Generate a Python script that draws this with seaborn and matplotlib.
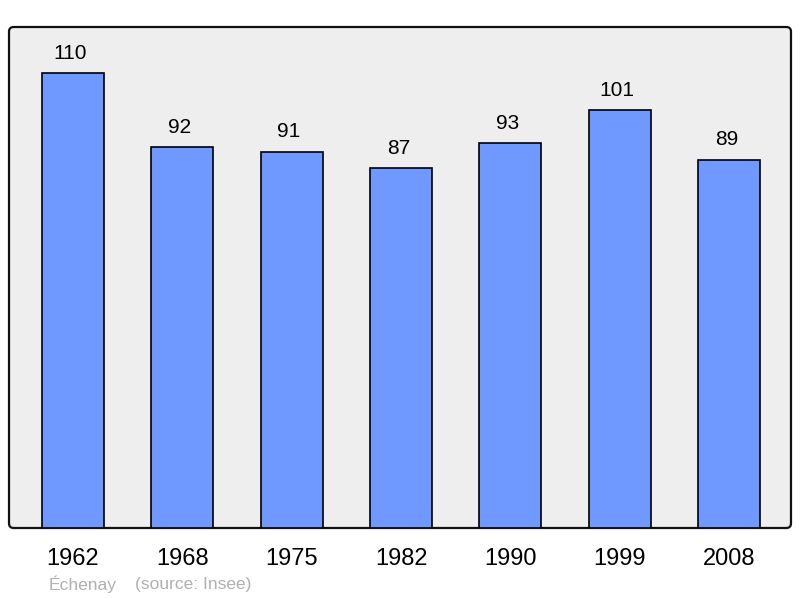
import matplotlib
matplotlib.use("Agg")
import matplotlib.pyplot as plt
import seaborn as sns
import pandas as pd
from matplotlib.patches import FancyBboxPatch

years = ["1962", "1968", "1975", "1982", "1990", "1999", "2008"]
population = [110, 92, 91, 87, 93, 101, 89]

sns.set_style("white")
plt.rcParams['font.family'] = ['Liberation Sans', 'DejaVu Sans']

df = pd.DataFrame({"year": years, "pop": population})

fig = plt.figure(figsize=(8, 5.98), dpi=100)
ax = fig.add_axes([9 / 800, 70 / 598, 782 / 800, 501 / 598])

sns.barplot(data=df, x="year", y="pop", color="#7099ff", saturation=1,
            edgecolor="black", linewidth=1.2, width=0.567, ax=ax, zorder=3)

# value labels above bars
for i, v in enumerate(population):
    ax.annotate(str(v), (i, v), xytext=(-2, 7.5), textcoords="offset points",
                ha="center", va="bottom", fontsize=15, color="black")

ax.set_xlim(-0.585, 6.565)
ax.set_ylim(0, 121.1)
ax.set_yticks([])
ax.set_xlabel("")
ax.set_ylabel("")
ax.tick_params(axis="x", length=0, labelsize=17, pad=14.5, labelcolor="black")

ax.patch.set_visible(False)
for s in ax.spines.values():
    s.set_visible(False)
frame = FancyBboxPatch((0, 0), 1, 1, boxstyle="round,pad=0,rounding_size=0.006",
                       transform=ax.transAxes, facecolor="#eeeeee",
                       edgecolor="#111111", linewidth=1.6, zorder=0,
                       clip_on=False, mutation_aspect=782 / 501)
ax.add_patch(frame)

fig.text(49 / 800, 1 - 584 / 598, "Échenay", color="#b0b0b0", fontsize=12.5,
         va="center", ha="left")
fig.text(135 / 800, 1 - 584 / 598, "(source: Insee)", color="#b0b0b0",
         fontsize=12.5, va="center", ha="left")

fig.savefig("out.png", dpi=100)
